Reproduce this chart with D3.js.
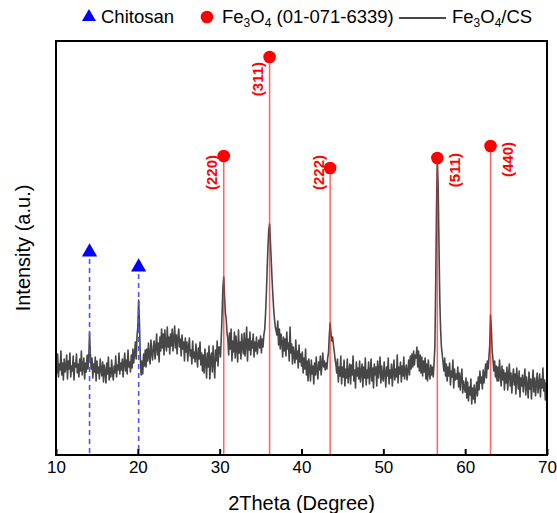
<!DOCTYPE html>
<html>
<head>
<meta charset="utf-8">
<script src="https://cdn.jsdelivr.net/npm/d3@7"></script>
<style>
  html, body { margin: 0; padding: 0; background: #fff; }
  svg { display: block; }
  text { font-family: "Liberation Sans", Arial, sans-serif; }
</style>
</head>
<body>
<svg id="chart" width="557" height="513"></svg>
<script>
// ---- data -------------------------------------------------------------
const xTicks = [10, 20, 30, 40, 50, 60, 70];

// XRD scan of Fe3O4/CS, 2θ from 10° to 70° in 0.1° steps (arb. units)
const scanStart = 10;
const scanStep = 0.1;
const intensity = [
  94, 82, 101, 78, 91, 85, 104, 80, 92, 75,
  96, 83, 87, 100, 76, 94, 86, 102, 78, 89,
  84, 99, 75, 92, 88, 101, 82, 91, 78, 96,
  84, 104, 80, 88, 97, 76, 92, 83, 100, 86,
  96, 122, 100, 86, 97, 77, 91, 83, 98, 74,
  94, 82, 88, 76, 96, 85, 79, 93, 73, 90,
  84, 72, 92, 81, 98, 75, 87, 78, 95, 82,
  75, 89, 82, 99, 78, 90, 85, 102, 81, 92,
  85, 96, 78, 92, 102, 84, 95, 81, 105, 88,
  93, 83, 100, 87, 106, 92, 101, 113, 96, 119,
  128, 155, 132, 98, 80, 94, 81, 101, 89, 105,
  88, 106, 94, 112, 98, 91, 115, 102, 95, 109,
  114, 96, 107, 121, 100, 112, 93, 118, 104, 126,
  107, 121, 100, 125, 111, 104, 128, 108, 118, 101,
  121, 109, 126, 104, 115, 129, 107, 120, 101, 117,
  126, 108, 116, 99, 120, 106, 113, 94, 117, 103,
  113, 94, 108, 117, 99, 105, 91, 114, 97, 103,
  93, 111, 99, 88, 107, 96, 113, 90, 102, 84,
  100, 82, 106, 94, 77, 102, 88, 109, 76, 97,
  102, 83, 109, 91, 77, 105, 94, 114, 89, 108,
  108, 98, 118, 142, 168, 178, 158, 142, 136, 122,
  116, 100, 122, 106, 126, 94, 114, 103, 123, 97,
  119, 107, 93, 125, 102, 113, 96, 121, 108, 101,
  122, 99, 111, 128, 94, 116, 105, 123, 100, 114,
  107, 121, 98, 113, 104, 118, 101, 110, 115, 107,
  119, 102, 116, 108, 120, 125, 140, 160, 185, 208,
  225, 231, 214, 195, 176, 160, 146, 136, 128, 124,
  120, 134, 110, 126, 106, 121, 113, 98, 118, 104,
  116, 99, 123, 106, 112, 94, 128, 102, 111, 91,
  108, 99, 92, 115, 96, 104, 87, 110, 93, 101,
  89, 103, 82, 97, 86, 106, 80, 94, 74, 96,
  86, 74, 95, 81, 89, 71, 92, 80, 98, 84,
  76, 93, 85, 99, 80, 90, 102, 88, 94, 85,
  92, 86, 97, 102, 120, 132, 122, 114, 118, 110,
  104, 96, 91, 82, 96, 73, 88, 79, 99, 71,
  88, 78, 95, 69, 86, 77, 96, 72, 83, 91,
  71, 90, 80, 99, 74, 85, 67, 93, 79, 87,
  76, 94, 73, 84, 91, 68, 88, 77, 97, 70,
  85, 77, 93, 71, 82, 96, 74, 87, 67, 91,
  80, 88, 69, 94, 77, 85, 98, 72, 89, 78,
  74, 93, 82, 68, 88, 79, 97, 71, 85, 77,
  91, 69, 83, 95, 75, 86, 78, 100, 72, 88,
  81, 93, 73, 89, 79, 98, 76, 84, 90, 75,
  84, 95, 80, 99, 86, 101, 88, 104, 90, 100,
  97, 108, 88, 104, 84, 100, 82, 98, 79, 94,
  83, 97, 76, 91, 74, 95, 82, 76, 90, 80,
  88, 78, 92, 108, 170, 248, 295, 268, 210, 155,
  125, 108, 100, 92, 84, 97, 79, 91, 74, 88,
  79, 92, 70, 84, 78, 95, 67, 86, 75, 81,
  76, 88, 68, 82, 65, 77, 86, 62, 74, 68,
  63, 77, 57, 73, 54, 68, 60, 76, 51, 67,
  56, 70, 52, 64, 73, 59, 78, 65, 84, 72,
  78, 66, 85, 72, 81, 91, 77, 94, 86, 97,
  110, 140, 126, 104, 95, 84, 94, 78, 89, 74,
  88, 74, 95, 80, 69, 89, 75, 85, 65, 82,
  72, 88, 65, 80, 91, 69, 82, 62, 77, 86,
  70, 81, 61, 87, 75, 66, 84, 58, 77, 69,
  80, 63, 74, 86, 60, 78, 69, 57, 83, 66,
  76, 56, 73, 85, 63, 77, 59, 71, 82, 62,
  70, 81, 58, 76, 67, 87, 64, 75, 55, 72,
  67
];

// chitosan reflections
const chitosanPeaks = [14.1, 20.1];
const chitosanMarkerHeights = [203, 188];

// Fe3O4 reference card 01-071-6339
const fe3o4Peaks = [30.5, 36.1, 43.5, 56.6, 63.1];
const fe3o4MarkerHeights = [299, 398, 287, 297, 309];
const fe3o4Planes = ["(220)", "(311)", "(222)", "(511)", "(440)"];

// label placement for the (hkl) tags: side of the stick and top height
const planeLabelSide = [-1, -1, -1, 1, 1];
const planeLabelTop = [300, 393, 300, 302, 313];

// ---- layout -------------------------------------------------------------
const W = 557, H = 513;
const margin = { top: 41, right: 10, bottom: 58, left: 56 };
const svg = d3.select("#chart");

const x = d3.scaleLinear().domain([10, 70]).range([margin.left, W - margin.right]);
const y = d3.scaleLinear().domain([0, 414]).range([H - margin.bottom, margin.top]);

const scan = intensity.map((v, i) => ({ t: scanStart + i * scanStep, v }));

// diffraction pattern
svg.append("path")
  .datum(scan)
  .attr("fill", "none")
  .attr("stroke", "#474747")
  .attr("stroke-width", 1.6)
  .attr("stroke-linejoin", "round")
  .attr("d", d3.line().x(d => x(d.t)).y(d => y(d.v)));

// chitosan markers: dashed drop lines + triangles
const triangle = d3.symbol().type(d3.symbolTriangle).size(100);
chitosanPeaks.forEach((p, i) => {
  svg.append("line")
    .attr("x1", x(p)).attr("x2", x(p))
    .attr("y1", y(chitosanMarkerHeights[i]) + 7).attr("y2", y(0))
    .attr("stroke", "#5050ff").attr("stroke-width", 1.6)
    .attr("stroke-dasharray", "5,4");
  svg.append("path")
    .attr("d", triangle)
    .attr("transform", `translate(${x(p)},${y(chitosanMarkerHeights[i])})`)
    .attr("fill", "#0000ff");
});

// Fe3O4 sticks, dots and (hkl) labels
fe3o4Peaks.forEach((p, i) => {
  svg.append("line")
    .attr("x1", x(p)).attr("x2", x(p))
    .attr("y1", y(fe3o4MarkerHeights[i])).attr("y2", y(0))
    .attr("stroke", "#ff2020").attr("stroke-opacity", 0.7)
    .attr("stroke-width", 1.5);
  svg.append("circle")
    .attr("cx", x(p)).attr("cy", y(fe3o4MarkerHeights[i]))
    .attr("r", 6.3)
    .attr("fill", "#ff0000");
  const lx = x(p) + planeLabelSide[i] * (planeLabelSide[i] < 0 ? 12 : 17);
  svg.append("text")
    .attr("transform", `translate(${lx},${y(planeLabelTop[i])}) rotate(-90)`)
    .attr("text-anchor", "end")
    .attr("dy", "0.36em")
    .attr("fill", "#ff0000")
    .attr("font-weight", "bold")
    .attr("font-size", 15)
    .text(fe3o4Planes[i]);
});

// frame
svg.append("rect")
  .attr("x", margin.left).attr("y", margin.top)
  .attr("width", W - margin.left - margin.right)
  .attr("height", H - margin.top - margin.bottom)
  .attr("fill", "none")
  .attr("stroke", "#000")
  .attr("stroke-width", 2);

// bottom axis with inward ticks
const xAxis = svg.append("g")
  .attr("transform", `translate(0,${y(0)})`)
  .call(d3.axisBottom(x).tickValues(xTicks).tickSizeInner(-6).tickSizeOuter(0).tickPadding(6));
xAxis.select(".domain").remove();
xAxis.selectAll(".tick line").attr("stroke", "#000").attr("stroke-width", 2);
xAxis.selectAll(".tick text")
  .attr("font-size", 17)
  .attr("font-family", "Liberation Sans, Arial, sans-serif")
  .attr("fill", "#000");

// axis titles
svg.append("text")
  .attr("x", (x.range()[0] + x.range()[1]) / 2)
  .attr("y", 510)
  .attr("text-anchor", "middle")
  .attr("font-size", 20)
  .text("2Theta (Degree)");

svg.append("text")
  .attr("transform", `translate(30,${(y.range()[0] + y.range()[1]) / 2}) rotate(-90)`)
  .attr("text-anchor", "middle")
  .attr("font-size", 20)
  .text("Intensity (a.u.)");

// legend
const legend = svg.append("g").attr("font-size", 18.5);
const ly = 17;
legend.append("path")
  .attr("d", d3.symbol().type(d3.symbolTriangle).size(85))
  .attr("transform", `translate(89,${ly})`)
  .attr("fill", "#0000ff");
legend.append("text").attr("x", 101).attr("y", ly).attr("dy", "0.35em").text("Chitosan");

legend.append("circle").attr("cx", 207).attr("cy", ly).attr("r", 6.3).attr("fill", "#ff0000");
const t2 = legend.append("text").attr("x", 222).attr("y", ly).attr("dy", "0.35em");
t2.append("tspan").text("Fe");
t2.append("tspan").attr("font-size", 12).attr("dy", 4).text("3");
t2.append("tspan").attr("dy", -4).text("O");
t2.append("tspan").attr("font-size", 12).attr("dy", 4).text("4");
t2.append("tspan").attr("dy", -4).text(" (01-071-6339)");

legend.append("line")
  .attr("x1", 399).attr("x2", 446).attr("y1", ly + 1).attr("y2", ly + 1)
  .attr("stroke", "#474747").attr("stroke-width", 2);
const t3 = legend.append("text").attr("x", 452).attr("y", ly).attr("dy", "0.35em");
t3.append("tspan").text("Fe");
t3.append("tspan").attr("font-size", 12).attr("dy", 4).text("3");
t3.append("tspan").attr("dy", -4).text("O");
t3.append("tspan").attr("font-size", 12).attr("dy", 4).text("4");
t3.append("tspan").attr("dy", -4).text("/CS");
</script>
</body>
</html>
